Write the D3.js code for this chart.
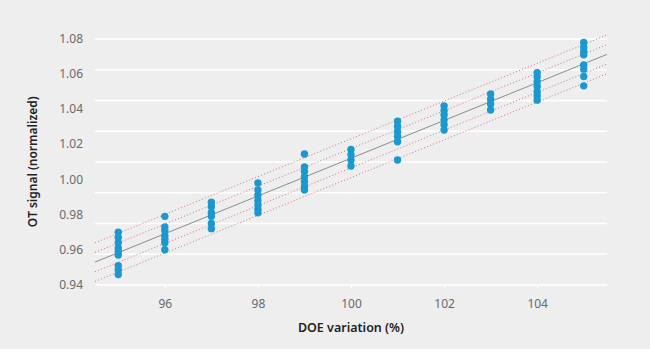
<!DOCTYPE html>
<html>
<head>
<meta charset="utf-8">
<script src="https://cdn.jsdelivr.net/npm/d3@7"></script>
<style>
  html, body { margin: 0; padding: 0; background: #eeeeee; }
  svg { display: block; font-family: "Noto Sans", "Open Sans", sans-serif; }
</style>
</head>
<body>
<div id="chart"></div>
<script>
// DOE levels (%) and measured OT signal replicates at each level
const doeLevels = [95, 96, 97, 98, 99, 100, 101, 102, 103, 104, 105];
const otSignal = [
  [0.970, 0.967, 0.964, 0.961, 0.959, 0.957, 0.951, 0.9485, 0.946],
  [0.979, 0.973, 0.971, 0.968, 0.966, 0.964, 0.960],
  [0.987, 0.9845, 0.981, 0.979, 0.975, 0.972],
  [0.998, 0.994, 0.991, 0.988, 0.9855, 0.983, 0.981],
  [1.0144, 1.007, 1.0044, 1.0015, 0.9987, 0.996, 0.994],
  [1.017, 1.014, 1.011, 1.0076],
  [1.033, 1.030, 1.027, 1.0243, 1.0214, 1.011],
  [1.0417, 1.039, 1.0366, 1.0338, 1.031, 1.028],
  [1.0485, 1.0455, 1.0428, 1.0394],
  [1.0606, 1.0583, 1.0555, 1.0527, 1.0498, 1.0474, 1.045],
  [1.0777, 1.0751, 1.0726, 1.0707, 1.065, 1.0626, 1.0584, 1.0531],
];

// regression line end points and the dotted band offsets
const fitX = [94.5, 105.5];
const fitY = [0.953, 1.071];
const bandOffsets = [0.011, 0.0055, -0.0055, -0.011];

const xTicks = [96, 98, 100, 102, 104];
const yTicks = [0.94, 0.96, 0.98, 1.00, 1.02, 1.04, 1.06, 1.08];

const width = 650;
const height = 349;
const plot = { left: 95, right: 607, top: 38.5, bottom: 285 };

const svg = d3.select('#chart')
  .append('svg')
    .attr('width', width)
    .attr('height', height);

svg.append('rect')
  .attr('width', width)
  .attr('height', height)
  .attr('fill', '#eeeeee');

const x = d3.scaleLinear()
  .domain([94.5, 105.5])
  .range([plot.left, plot.right]);
const y = d3.scaleLinear()
  .domain([0.94, 1.08])
  .range([plot.bottom, plot.top]);

// white grid, evenly split between top and bottom of the plot
const grid = d3.scaleLinear().domain([0, 8]).range([plot.top + 0.5, plot.bottom]);
svg.append('g')
  .selectAll('line')
  .data(d3.range(9))
  .enter()
  .append('line')
    .attr('x1', plot.left)
    .attr('x2', plot.right)
    .attr('y1', d => grid(d))
    .attr('y2', d => grid(d))
    .attr('stroke', '#ffffff')
    .attr('stroke-width', 1.6);

// axes
const axisX = d3.axisBottom(x)
  .tickValues(xTicks)
  .tickSize(3)
  .tickPadding(11)
  .tickFormat(d3.format('d'));
const gx = svg.append('g')
  .attr('transform', `translate(0, ${plot.bottom})`)
  .call(axisX);
gx.select('.domain').remove();
gx.selectAll('.tick line').attr('stroke', '#ffffff').attr('stroke-width', 1.5);
gx.selectAll('.tick text')
  .attr('fill', '#6a6a6a')
  .style('font-size', '12px')
  .style('font-family', '"Noto Sans", sans-serif');

const axisY = d3.axisLeft(y)
  .tickValues(yTicks)
  .tickSize(0)
  .tickPadding(12)
  .tickFormat(d3.format('.2f'));
const gy = svg.append('g')
  .attr('transform', `translate(${plot.left}, 0)`)
  .call(axisY);
gy.select('.domain').remove();
gy.selectAll('.tick text')
  .attr('fill', '#6a6a6a')
  .style('font-size', '12px')
  .style('font-family', '"Noto Sans", sans-serif');

// fitted line and dotted bands
const line = d3.line()
  .x(d => x(d[0]))
  .y(d => y(d[1]));

svg.append('g')
  .selectAll('path')
  .data(bandOffsets)
  .enter()
  .append('path')
    .attr('d', off => line(fitX.map((v, i) => [v, fitY[i] + off])))
    .attr('fill', 'none')
    .attr('stroke', '#d4707f')
    .attr('stroke-width', 1)
    .attr('stroke-dasharray', '1,2.2');

svg.append('path')
  .attr('d', line(fitX.map((v, i) => [v, fitY[i]])))
  .attr('fill', 'none')
  .attr('stroke', '#8c8c8c')
  .attr('stroke-width', 1);

// replicate points
const points = doeLevels.flatMap((lvl, i) => otSignal[i].map(v => ({ lvl, v })));
svg.append('g')
  .selectAll('circle')
  .data(points)
  .enter()
  .append('circle')
    .attr('cx', d => x(d.lvl))
    .attr('cy', d => y(d.v))
    .attr('r', 3.7)
    .attr('fill', '#1b98cd');

// axis titles
svg.append('text')
  .attr('x', x(100))
  .attr('y', 332)
  .attr('text-anchor', 'middle')
  .attr('fill', '#222222')
  .style('font-size', '12.5px')
  .style('font-weight', 600)
  .text('DOE variation (%)');

svg.append('text')
  .attr('transform', `translate(37, ${(plot.top + plot.bottom) / 2}) rotate(-90)`)
  .attr('text-anchor', 'middle')
  .attr('fill', '#222222')
  .style('font-size', '12px')
  .style('font-weight', 600)
  .text('OT signal (normalized)');
</script>
</body>
</html>
